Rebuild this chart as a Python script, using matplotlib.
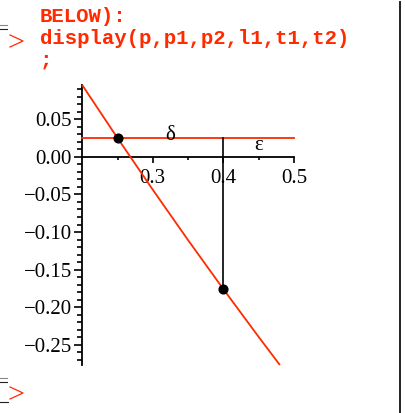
import numpy as np
import matplotlib
matplotlib.use("Agg")
from matplotlib import pyplot as plt
from matplotlib.lines import Line2D
from matplotlib.ticker import FixedLocator, FuncFormatter

# curve p, sampled
curve_x = [0.20, 0.25, 0.30, 0.35, 0.40, 0.45, 0.48]
curve_y = [0.0955, 0.025, -0.0438, -0.1108, -0.176, -0.2395, -0.2768]

# points p1, p2
pts_x = [0.25, 0.40]
pts_y = [0.025, -0.176]

# horizontal line l1 and the vertical drop
hline_y = 0.025
hline_x = [0.20, 0.50]
drop_x = 0.40

# text labels t1, t2
labels = ["δ", "ε"]
label_x = [0.325, 0.45]
label_y = [0.029, 0.015]

xticks_major = [0.3, 0.4, 0.5]
xticks_minor = [0.25, 0.35, 0.45]
yticks_major = [-0.25, -0.20, -0.15, -0.10, -0.05, 0.00, 0.05]
yticks_minor = [round(-0.27 + 0.01 * i, 2) for i in range(37)]

code_lines = ["BELOW):", "display(p,p1,p2,l1,t1,t2)", ";"]

W, H = 405, 413
RED = "#ff2a00"

fig = plt.figure(figsize=(W / 100, H / 100), dpi=100)
fig.patch.set_facecolor("white")

def px(x, y):
    return x / W, 1 - y / H

# plot area placed in pixels
left, right, top, bottom = 82.2, 294.0, 85.0, 365.0
ax = fig.add_axes([left / W, 1 - bottom / H, (right - left) / W, (bottom - top) / H])
ax.set_xlim(0.2, 0.5)
ax.set_ylim(min(curve_y), max(curve_y))
ax.patch.set_alpha(0)

serif = ["Liberation Serif", "DejaVu Serif"]

ax.plot(curve_x, curve_y, color=RED, lw=1.3, solid_capstyle="butt", clip_on=False, zorder=3)
ax.plot(hline_x, [hline_y, hline_y], color=RED, lw=1.3, clip_on=False, zorder=3)
ax.plot([drop_x, drop_x], [hline_y, pts_y[1]], color="black", lw=1.2, zorder=4)
ax.plot(pts_x, pts_y, "o", color="black", ms=6.3, zorder=5, clip_on=False)
for s, lx, ly in zip(labels, label_x, label_y):
    ax.text(lx, ly, s, ha="center", va="center", fontsize=15, family=serif, zorder=6)

for side in ["top", "right"]:
    ax.spines[side].set_visible(False)
ax.spines["bottom"].set_position(("data", 0))
for side in ["left", "bottom"]:
    ax.spines[side].set_linewidth(1.3)

ax.xaxis.set_major_locator(FixedLocator(xticks_major))
ax.xaxis.set_minor_locator(FixedLocator(xticks_minor))
ax.yaxis.set_major_locator(FixedLocator(yticks_major))
ax.yaxis.set_minor_locator(FixedLocator(yticks_minor))
ax.xaxis.set_major_formatter(FuncFormatter(lambda v, p: f"{v:.1f}"))
ax.yaxis.set_major_formatter(FuncFormatter(lambda v, p: f"{v:.2f}".replace("-", "\u2212")))

ax.tick_params(axis="x", which="major", direction="out", length=4, width=1.2, pad=4.5)
ax.tick_params(axis="x", which="minor", direction="out", length=1.8, width=1.2)
ax.tick_params(axis="y", which="major", direction="out", length=6, width=1.2, pad=1.5)
ax.tick_params(axis="y", which="minor", direction="out", length=3.8, width=1.2)
for lab in ax.get_xticklabels() + ax.get_yticklabels():
    lab.set_fontfamily(serif)
    lab.set_fontsize(15)

# worksheet input lines
for i, line in enumerate(code_lines):
    x, y = px(40, 22.5 + 21.5 * i)
    fig.text(x, y, line, color=RED, fontsize=14.9, family="Liberation Mono",
             fontweight="bold", va="baseline", ha="left")

def seg(xs, ys, color, lw):
    pts = [px(a, b) for a, b in zip(xs, ys)]
    fig.add_artist(Line2D([p[0] for p in pts], [p[1] for p in pts],
                          transform=fig.transFigure, color=color, lw=lw))

# prompts
seg([10, 23, 10], [35, 41, 47], RED, 0.9)
seg([10, 23, 10], [387, 393, 399], RED, 0.9)

# group brackets
seg([0, 7], [25, 25], "#888888", 0.8)
seg([0, 7], [28.5, 28.5], "#222222", 0.8)
seg([0, 7], [378, 378], "#888888", 0.8)
seg([0, 7], [381.5, 381.5], "#222222", 0.8)
seg([0, 8], [401.5, 401.5], "#222222", 0.8)

# right edge
seg([400, 400], [2, 413], "#222222", 1.4)

fig.savefig("out.png", dpi=100)
